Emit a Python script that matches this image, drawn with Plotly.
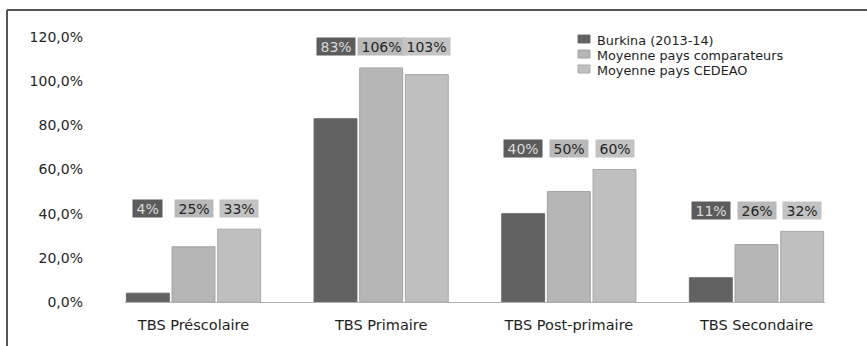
import plotly.graph_objects as go

# --- data -------------------------------------------------------------
categories = ["TBS Préscolaire", "TBS Primaire", "TBS Post-primaire", "TBS Secondaire"]
series_names = ["Burkina (2013-14)", "Moyenne pays comparateurs", "Moyenne pays CEDEAO"]
burkina = [4, 83, 40, 11]
comparateurs = [25, 106, 50, 26]
cedeao = [33, 103, 60, 32]
y_ticks = [0, 20, 40, 60, 80, 100, 120]

series_values = [burkina, comparateurs, cedeao]

# --- styling ----------------------------------------------------------
FONT = "DejaVu Sans"
fill_colors = ["#626262", "#b6b6b6", "#bfbfbf"]
edge_colors = ["#6a6a6a", "#a2a2a2", "#aaaaaa"]
label_bg = ["#5c5c5c", "#b9b9b9", "#c3c3c3"]
label_fg = ["#dadada", "#262626", "#262626"]

W, H = 867, 346
PL, PR, PT, PB = 125, 825, 37, 302  # plot area in pixels
BARGAP = 0.27
BARGROUPGAP = 0.06


def px_x(x):
    return (x - PL) / (PR - PL)


def px_y(y):
    return (PB - y) / (PB - PT)


def text_width(s, size):
    widths = {"%": 0.95}
    return sum(widths.get(c, 0.636) for c in s) * size


def pct_label(v):
    # French style: decimal comma
    return f"{v:.1f}%".replace(".", ",")


fig = go.Figure()
for name, vals, fc, ec in zip(series_names, series_values, fill_colors, edge_colors):
    fig.add_trace(go.Bar(
        x=categories, y=vals, name=name,
        marker=dict(color=fc, line=dict(color=ec, width=1)),
        showlegend=False,
    ))

# value labels in coloured boxes above each group
slot = (1 - BARGAP) / len(series_values)
label_size = 14
for i, cat in enumerate(categories):
    top = max(v[i] for v in series_values)
    for k, vals in enumerate(series_values):
        txt = f"{vals[i]}%"
        fig.add_annotation(
            x=i + (k - 1) * slot, y=top + 9.5, xref="x", yref="y",
            text=txt, showarrow=False,
            font=dict(family=FONT, size=label_size, color=label_fg[k]),
            bgcolor=label_bg[k], borderpad=1,
            width=text_width(txt, label_size) + 5, height=15,
            xanchor="center", yanchor="middle",
        )

# legend block (top right)
leg_rows = [40, 55, 70]
for name, fc, ec, ry in zip(series_names, fill_colors, edge_colors, leg_rows):
    fig.add_shape(type="rect", xref="paper", yref="paper",
                  x0=px_x(578), x1=px_x(590), y0=px_y(ry - 5), y1=px_y(ry + 3),
                  fillcolor=fc, line=dict(color=ec, width=1))
    fig.add_annotation(x=px_x(595), y=px_y(ry), xref="paper", yref="paper",
                       text=name, showarrow=False, xanchor="left", yanchor="middle",
                       font=dict(family=FONT, size=12.8, color="#1e1e1e"))

# outer frame: top and left rules
frame = dict(color="#555555", width=2)
fig.add_shape(type="line", xref="paper", yref="paper",
              x0=px_x(7), x1=px_x(W), y0=px_y(10), y1=px_y(10), line=frame)
fig.add_shape(type="line", xref="paper", yref="paper",
              x0=px_x(7), x1=px_x(7), y0=px_y(10), y1=px_y(H), line=frame)

fig.update_layout(
    width=W, height=H,
    margin=dict(l=PL, r=W - PR, t=PT, b=H - PB, pad=0),
    paper_bgcolor="white", plot_bgcolor="white",
    barmode="group", bargap=BARGAP, bargroupgap=BARGROUPGAP,
    font=dict(family=FONT, size=14.5, color="#262626"),
    xaxis=dict(
        range=[-0.5 + BARGAP / 2, len(categories) - 0.5 - BARGAP / 2],
        showline=True, linecolor="#b0b0b0", linewidth=1,
        showgrid=False, zeroline=False, ticks="",
        ticklabelstandoff=10,
        tickfont=dict(family=FONT, size=14.5, color="#1e1e1e"),
    ),
    yaxis=dict(
        range=[0, 120], tickvals=y_ticks,
        ticktext=[pct_label(v) for v in y_ticks],
        showline=False, showgrid=False, zeroline=False, ticks="",
        ticklabelstandoff=41,
        tickfont=dict(family=FONT, size=14, color="#262626"),
    ),
)

fig.write_html("out.html")
